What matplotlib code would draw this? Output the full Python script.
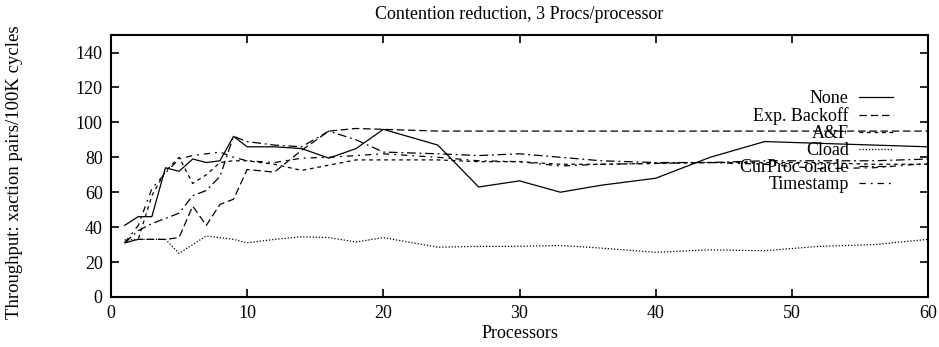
import matplotlib
matplotlib.use('Agg')
import matplotlib.pyplot as plt

procs = [1, 2, 3, 4, 5, 6, 7, 8, 9, 10, 12, 14, 16, 18, 20, 24, 27, 30, 33, 36, 40, 44, 48, 52, 56, 60]

none = [41, 46, 46, 74, 72, 79, 77, 78, 92, 86, 86, 85, 79.5, 85, 96, 87, 63, 66.5, 60, 64, 68, 80, 89, 88, 87, 86]
expBackoff = [31, 33, 33, 33, 34, 52, 41, 53, 56, 73, 71.5, 84, 95, 96.5, 96, 95, 95, 95, 95, 95, 95, 95, 95, 95, 95, 95]
af = [31, 33, 58, 72, 80, 65, 70, 77, 78, 78, 76, 72.5, 75.5, 78.5, 78.5, 78.5, 77.5, 77.5, 76, 76, 76.5, 77, 77, 77, 76, 76]
cload = [32.7, 33, 33, 33, 25, 30, 35, 34, 33, 31, 33, 34.5, 34, 31.5, 34, 28.5, 29, 29, 29.5, 28, 25.6, 27, 26.5, 29, 30, 33]
curProc = [31, 38, 42, 45, 48, 58, 61, 69, 92, 89, 87, 86, 95, 90, 83, 82, 81, 82, 80, 78, 77, 77, 78, 78, 78, 79]
timestamp = [31, 41, 62, 71, 79, 81, 82, 83, 80, 78, 77, 79.5, 80, 81, 82, 80, 78, 77.5, 75, 76, 76.5, 77, 76, 73.5, 74, 76.5]

labels = ['None', 'Exp. Backoff', 'A&F', 'Cload', 'CurProc oracle', 'Timestamp']
xTicks = [0, 10, 20, 30, 40, 50, 60]
yTicks = [0, 20, 40, 60, 80, 100, 120, 140]

plt.rcParams['font.family'] = ['Liberation Serif', 'DejaVu Serif']
plt.rcParams['font.size'] = 13

fig = plt.figure(figsize=(9.39, 3.47), dpi=100)
ax = fig.add_axes([0.1182, 0.1441, 0.8701, 0.7549])

# estilos parecidos com o terminal postscript do gnuplot
styles = ['-', (0, (6, 3)), (0, (3, 3)), (0, (1, 1.5)), (0, (7, 3, 1.5, 3)), (0, (5, 4, 1.5, 4))]
series = [none, expBackoff, af, cload, curProc, timestamp]

for values, style, label in zip(series, styles, labels):
    ax.plot(procs, values, color='black', linewidth=0.9, linestyle=style, label=label)

ax.set_xlim(0, 60)
ax.set_ylim(0, 150)
ax.set_xticks(xTicks)
ax.set_yticks(yTicks)
ax.tick_params(direction='in', top=True, right=True, length=6, width=1.2, pad=6)
for spine in ax.spines.values():
    spine.set_linewidth(1.5)

ax.set_title('Contention reduction, 3 Procs/processor', fontsize=13, pad=11.5)
ax.set_xlabel('Processors', labelpad=2)
ax.set_ylabel('Throughput: xaction pairs/100K cycles', fontsize=13.5)
ax.yaxis.set_label_coords(-0.108, 0.475)

ax.legend(loc='upper right', frameon=False, markerfirst=False, handlelength=1.85,
          handletextpad=0.6, labelspacing=0.0, borderpad=0, borderaxespad=0,
          bbox_to_anchor=(0.957, 0.789))

fig.savefig('out.png', dpi=100)
